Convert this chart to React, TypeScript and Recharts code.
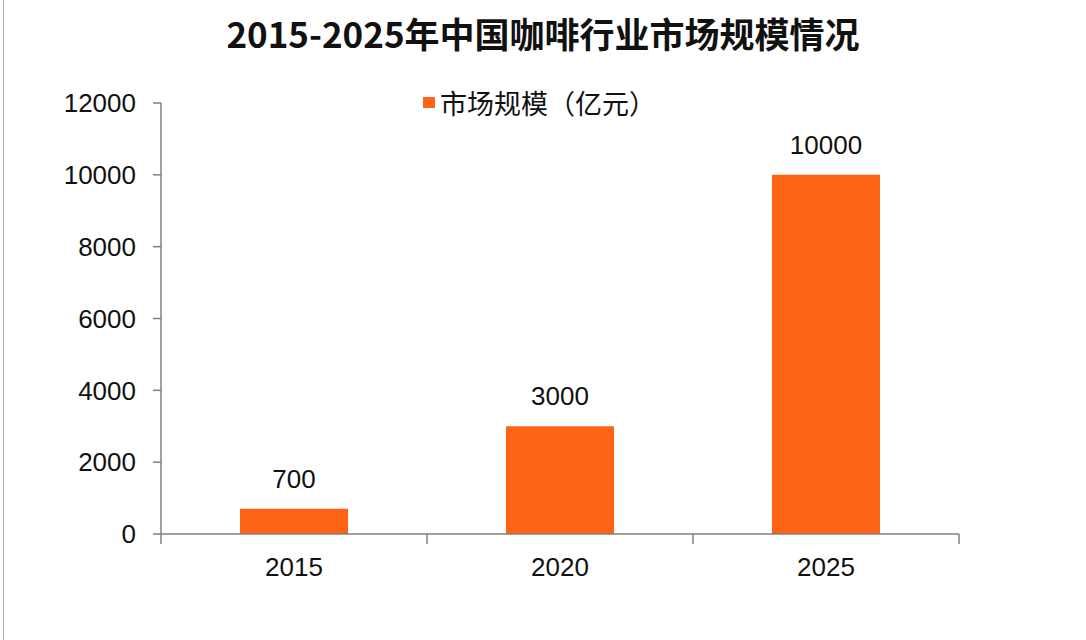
import React from "react";
import { BarChart, Bar, XAxis, YAxis, Legend, LabelList } from "recharts";

const years = ["2015", "2020", "2025"];
const marketSize = [700, 3000, 10000];
const yTicks = [0, 2000, 4000, 6000, 8000, 10000, 12000];

const TITLE = "2015-2025年中国咖啡行业市场规模情况";
const SERIES_NAME = "市场规模（亿元）";

const BAR_COLOR = "#FF6316";
const AXIS_COLOR = "#808080";
const NUM_FONT = "'Liberation Sans', Arial, sans-serif";
const CJK_FONT = "'Noto Sans CJK SC', 'Noto Sans', sans-serif";

const chartData = years.map((year, i) => ({ year, value: marketSize[i] }));

const X_TICK_MARGIN = 24;

interface TickProps {
  x?: number;
  y?: number;
  payload?: { value: string; offset?: number };
  index?: number;
  visibleTicksCount?: number;
}

// category ticks sit between the bars, like the original, so draw them at the band edges
function YearTick({ x = 0, y = 0, payload, index = 0, visibleTicksCount = 0 }: TickProps) {
  const half = payload?.offset ?? 0;
  const axisY = y - X_TICK_MARGIN;
  const isLast = index === visibleTicksCount - 1;
  return (
    <g>
      <line x1={x - half} x2={x - half} y1={axisY} y2={axisY + 10} stroke={AXIS_COLOR} strokeWidth={1.5} />
      {isLast && (
        <line x1={x + half} x2={x + half} y1={axisY} y2={axisY + 10} stroke={AXIS_COLOR} strokeWidth={1.5} />
      )}
      <text
        x={x}
        y={y}
        dy="0.71em"
        textAnchor="middle"
        fill="#111"
        style={{ fontFamily: NUM_FONT, fontSize: 26 }}
      >
        {payload?.value}
      </text>
    </g>
  );
}

function LegendContent() {
  return (
    <div style={{ display: "flex", alignItems: "center", fontFamily: CJK_FONT, fontSize: 27, color: "#111" }}>
      <span style={{ display: "inline-block", width: 12, height: 11, background: BAR_COLOR, marginRight: 5 }} />
      <span>{SERIES_NAME}</span>
    </div>
  );
}

export default function App() {
  return (
    <div
      style={{
        position: "absolute",
        left: 0,
        top: 0,
        width: 1086,
        height: 640,
        background: "#fff",
        overflow: "hidden",
      }}
    >
      <div style={{ position: "absolute", left: 3, top: 0, width: 1, height: 640, background: "#aaa" }} />
      <div
        style={{
          position: "absolute",
          top: 7,
          left: 0,
          width: 1086,
          textAlign: "center",
          fontFamily: CJK_FONT,
          fontWeight: 700,
          fontSize: 35,
          color: "#111",
        }}
      >
        {TITLE}
      </div>
      <BarChart
        width={1086}
        height={640}
        data={chartData}
        margin={{ top: 64, right: 127, bottom: 0, left: 0 }}
        barCategoryGap="29.7%"
      >
        <YAxis
          domain={[0, 12000]}
          ticks={yTicks}
          width={161}
          axisLine={{ stroke: AXIS_COLOR, strokeWidth: 1.5 }}
          tickLine={{ stroke: AXIS_COLOR, strokeWidth: 1.5 }}
          tickSize={8}
          tickMargin={17}
          tick={{ fill: "#111", fontSize: 26, fontFamily: NUM_FONT }}
          interval={0}
        />
        <XAxis
          dataKey="year"
          height={106}
          axisLine={{ stroke: AXIS_COLOR, strokeWidth: 1.5 }}
          tickLine={false}
          tickSize={0}
          tickMargin={X_TICK_MARGIN}
          tick={<YearTick />}
          interval={0}
        />
        <Legend
          layout="vertical"
          verticalAlign="top"
          align="center"
          content={<LegendContent />}
          wrapperStyle={{ top: 83, left: 423, width: 280 }}
        />
        <Bar dataKey="value" name={SERIES_NAME} fill={BAR_COLOR} isAnimationActive={false}>
          <LabelList
            dataKey="value"
            position="top"
            offset={21}
            fill="#111"
            style={{ fontFamily: NUM_FONT, fontSize: 26 }}
          />
        </Bar>
      </BarChart>
    </div>
  );
}
